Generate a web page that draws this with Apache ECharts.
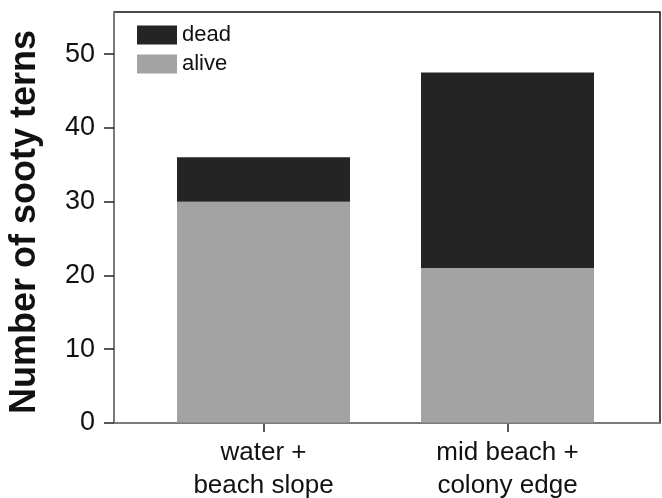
<!DOCTYPE html>
<html>
<head>
<meta charset="utf-8">
<script src="https://cdn.jsdelivr.net/npm/echarts@6/dist/echarts.min.js"></script>
<style>
  html, body { margin: 0; padding: 0; background: #fff; }
  #chart { width: 662px; height: 498px; }
</style>
</head>
<body>
<div id="chart"></div>
<script>
  var categories = ['water +\nbeach slope', 'mid beach +\ncolony edge']
  var alive = [30, 21]
  var dead = [6, 26.5]
  var yTicks = { min: 0, max: 55.7, interval: 10 }

  var font = 'Liberation Sans, Arial, Helvetica, sans-serif'
  var axisGrey = '#8a8a8a'

  var chart = echarts.init(document.getElementById('chart'))
  var option = {
    animation: false,
    textStyle: { fontFamily: font },
    legend: {
      orient: 'vertical',
      left: 132,
      top: 19,
      itemWidth: 40,
      itemHeight: 19,
      itemGap: 7,
      data: ['dead', 'alive'],
      icon: 'rect',
      textStyle: { fontSize: 22, lineHeight: 19, color: '#111', fontFamily: font }
    },
    grid: [
      // frame: black box, left/bottom axis lines drawn over it
      { left: 114, right: 2, top: 12, bottom: 75, outerBoundsMode: 'none', show: true, borderColor: '#111', borderWidth: 1.5, backgroundColor: 'transparent' },
      // bars
      { left: 141.5, right: 32.5, top: 12, bottom: 75, outerBoundsMode: 'none' }
    ],
    xAxis: [
      {
        gridIndex: 0, type: 'value', min: 0, max: 1, z: 5,
        axisLine: { show: true, lineStyle: { color: axisGrey, width: 1.5 } },
        axisTick: { show: false }, axisLabel: { show: false }, splitLine: { show: false }
      },
      {
        gridIndex: 1, type: 'category', data: categories,
        axisLine: { show: false },
        axisTick: { show: true, alignWithLabel: true, length: 9, lineStyle: { color: '#222', width: 1.5 } },
        axisLabel: { fontSize: 26, lineHeight: 33, margin: 13, color: '#111', fontFamily: font },
        splitLine: { show: false }
      }
    ],
    yAxis: [
      {
        gridIndex: 0, type: 'value', min: yTicks.min, max: yTicks.max, interval: yTicks.interval, z: 5,
        name: 'Number of sooty terns',
        nameLocation: 'middle',
        nameGap: 71,
        nameTextStyle: { fontSize: 36, fontWeight: 'bold', color: '#111', fontFamily: font, padding: [0, 9, 0, 0] },
        axisLine: { show: true, lineStyle: { color: axisGrey, width: 1.5 } },
        axisTick: { show: true, length: 10, lineStyle: { color: '#222', width: 1.5 } },
        axisLabel: { fontSize: 27, margin: 19, color: '#111', showMaxLabel: false, fontFamily: font },
        splitLine: { show: false }
      },
      {
        gridIndex: 1, type: 'value', min: yTicks.min, max: yTicks.max, show: false,
        splitLine: { show: false }
      }
    ],
    series: [
      {
        name: 'alive', type: 'bar', stack: 'total', xAxisIndex: 1, yAxisIndex: 1,
        barWidth: 173, data: alive,
        itemStyle: { color: '#a3a3a3' }
      },
      {
        name: 'dead', type: 'bar', stack: 'total', xAxisIndex: 1, yAxisIndex: 1,
        barWidth: 173, data: dead,
        itemStyle: { color: '#242424' }
      }
    ]
  }
  chart.setOption(option)
</script>
</body>
</html>
